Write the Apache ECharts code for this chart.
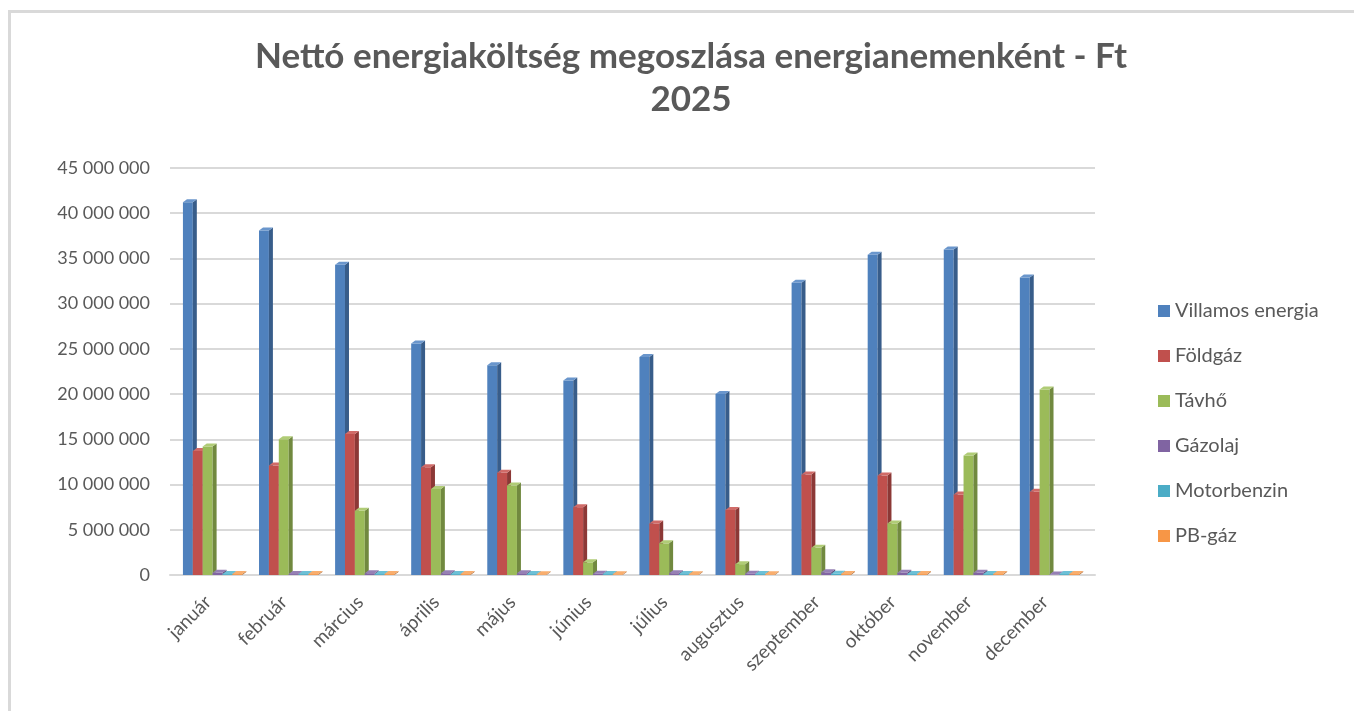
<!DOCTYPE html>
<html>
<head>
<meta charset="utf-8">
<script src="https://cdn.jsdelivr.net/npm/echarts@6/dist/echarts.min.js"></script>
<style>html,body{margin:0;padding:0;background:#fff}#c{width:1354px;height:711px}</style>
</head>
<body>
<div id="c"></div>
<script>
var categories = ['január','február','március','április','május','június','július','augusztus','szeptember','október','november','december'];
var seriesNames = ['Villamos energia','Földgáz','Távhő','Gázolaj','Motorbenzin','PB-gáz'];
var villamos = [41200000, 38100000, 34300000, 25600000, 23200000, 21500000, 24100000, 20000000, 32300000, 35400000, 36000000, 32900000];
var foldgaz = [13700000, 12100000, 15600000, 11900000, 11300000, 7500000, 5700000, 7200000, 11100000, 11000000, 8900000, 9200000];
var tavho = [14200000, 15000000, 7100000, 9500000, 9900000, 1400000, 3500000, 1200000, 3000000, 5700000, 13200000, 20500000];
var gazolaj = [250000, 100000, 200000, 200000, 200000, 150000, 200000, 150000, 300000, 250000, 250000, 50000];
var motorbenzin = [100000, 100000, 100000, 100000, 100000, 100000, 100000, 100000, 150000, 100000, 100000, 100000];
var pbgaz = [100000, 100000, 100000, 100000, 80000, 80000, 80000, 80000, 100000, 100000, 100000, 100000];
var yTicks = [0, 5000000, 10000000, 15000000, 20000000, 25000000, 30000000, 35000000, 40000000, 45000000];

var colors = ['#4F81BD','#C0504D','#9BBB59','#8064A2','#4BACC6','#F79646'];
var sideColors = ['#385D8A','#8C3836','#71893F','#5C4776','#31859C','#B66D31'];
var topColors = ['#6A96CC','#D06B68','#B0CC76','#9680B5','#6DC0D6','#F9AE6E'];
var allData = [villamos, foldgaz, tavho, gazolaj, motorbenzin, pbgaz];

function fmt(v){ return String(v).replace(/\B(?=(\d{3})+(?!\d))/g, ' '); }

function makeRender(idx){
  return function(params, api){
    var cat = api.value(0), val = api.value(1);
    var base = api.coord([cat, 0]);
    var top = api.coord([cat, val]);
    var band = api.size([1, 0])[0];
    var bw = band * 0.13;
    var x0 = base[0] - 3 * bw + idx * bw + band * 0.06;
    var d = 4, dy = 3;
    var yT = top[1], yB = base[1];
    return {
      type: 'group',
      children: [
        {type:'rect', shape:{x:x0, y:yT, width:bw, height:yB - yT}, style:{fill: colors[idx]}},
        {type:'polygon', shape:{points:[[x0+bw,yT],[x0+bw+d,yT-dy],[x0+bw+d,yB-dy],[x0+bw,yB]]}, style:{fill: sideColors[idx]}},
        {type:'polygon', shape:{points:[[x0,yT],[x0+d,yT-dy],[x0+bw+d,yT-dy],[x0+bw,yT]]}, style:{fill: topColors[idx]}}
      ]
    };
  };
}

var series = seriesNames.map(function(name, i){
  return {
    type: 'custom',
    name: name,
    color: colors[i],
    itemStyle: {color: colors[i]},
    xAxisIndex: 1, yAxisIndex: 1,
    renderItem: makeRender(i),
    encode: {x: 0, y: 1},
    data: allData[i].map(function(v, j){ return [j, v]; })
  };
});

var chart = echarts.init(document.getElementById('c'), null, {renderer: 'canvas'});
chart.setOption({
  animation: false,
  backgroundColor: '#fff',
  textStyle: {fontFamily: 'Lato'},
  graphic: [{type:'rect', shape:{x:9.5, y:11.5, width:1400, height:720}, style:{fill:'none', stroke:'#D9D9D9', lineWidth:3}, silent:true}],
  title: {
    text: 'Nettó energiaköltség megoszlása energianemenként - Ft\n2025',
    left: 686, top: 30, textAlign: 'center',
    textStyle: {fontFamily: 'Lato', fontSize: 35, fontWeight: 'bold', color: '#595959', lineHeight: 43}
  },
  legend: {
    orient: 'vertical', left: 1153, top: 296,
    itemWidth: 12, itemHeight: 12, itemGap: 25, icon: 'rect',
    textStyle: {fontFamily: 'Lato', fontSize: 20, color: '#595959'},
    data: seriesNames
  },
  grid: [
    {left: 170, right: 259, top: 168, bottom: 136},
    {left: 170, right: 271, top: 168, bottom: 136}
  ],
  xAxis: [
    {
      gridIndex: 0, type: 'category', data: categories,
      axisTick: {show: false}, axisLabel: {show: false},
      axisLine: {lineStyle: {color: '#D9D9D9', width: 2}}
    },
    {
      gridIndex: 1, type: 'category', data: categories,
      axisTick: {show: false}, axisLine: {show: false},
      axisLabel: {rotate: 45, interval: 0, margin: 24, fontFamily: 'Lato', fontSize: 19, color: '#595959'}
    }
  ],
  yAxis: [
    {
      gridIndex: 0, type: 'value', min: 0, max: 45000000, interval: 5000000,
      axisLine: {show: false}, axisTick: {show: false},
      splitLine: {lineStyle: {color: '#D9D9D9', width: 2}},
      axisLabel: {margin: 20, fontFamily: 'Lato', fontSize: 18, color: '#595959', formatter: function(v){ return fmt(v); }}
    },
    {
      gridIndex: 1, type: 'value', min: 0, max: 45000000, interval: 5000000,
      axisLine: {show: false}, axisTick: {show: false}, splitLine: {show: false}, axisLabel: {show: false}
    }
  ],
  series: series
});
</script>
</body>
</html>
